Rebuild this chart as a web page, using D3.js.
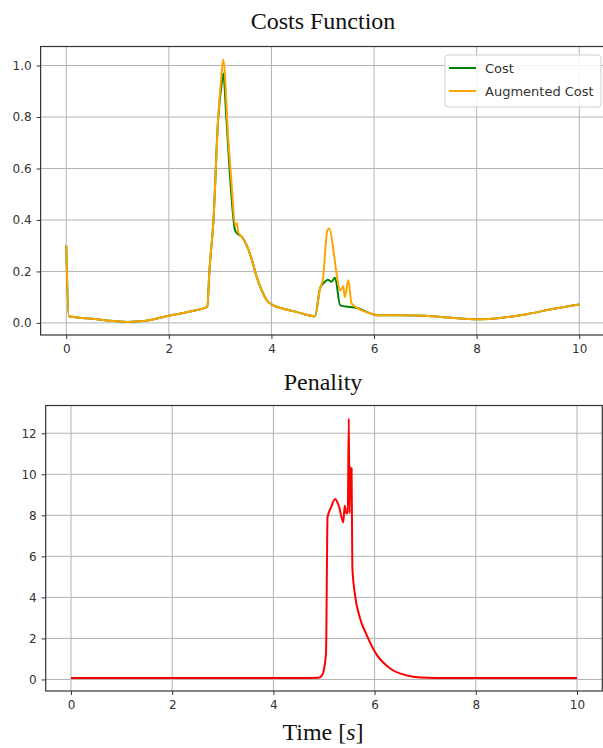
<!DOCTYPE html>
<html>
<head>
<meta charset="utf-8">
<script src="https://cdn.jsdelivr.net/npm/d3@7"></script>
<style>
  body { margin: 0; background: #fff; }
  .tick text { font-family: "DejaVu Sans", sans-serif; font-size: 12px; fill: #333; }
  .title { font-family: "Liberation Serif", serif; font-size: 24px; fill: #111; }
</style>
</head>
<body>
<div id="chart"></div>
<script>
// Costs function: green cost, orange augmented cost
var costTime  = [0, 0.05, 0.5, 1.0, 1.2, 1.5, 2.0, 2.5, 2.75, 2.79, 2.87, 2.96, 3.03, 3.06, 3.12, 3.2, 3.29, 3.33, 3.42, 3.52, 3.62, 3.71, 3.81, 3.91, 4.0, 4.2, 4.5, 4.85, 4.95, 5.04, 5.1, 5.17, 5.24, 5.34, 5.54, 5.63, 5.93, 6.06, 6.5, 7.0, 7.5, 8.0, 8.5, 9.0, 9.5, 10.0];
var costValue = [0.30, 0.026, 0.016, 0.006, 0.004, 0.007, 0.028, 0.048, 0.062, 0.2, 0.40, 0.79, 0.93, 0.97, 0.8, 0.55, 0.36, 0.348, 0.335, 0.30, 0.244, 0.18, 0.127, 0.088, 0.072, 0.057, 0.042, 0.026, 0.137, 0.159, 0.168, 0.16, 0.175, 0.068, 0.062, 0.06, 0.037, 0.03, 0.03, 0.028, 0.02, 0.014, 0.02, 0.035, 0.055, 0.072];

var augTime  = [0, 0.05, 0.5, 1.0, 1.2, 1.5, 2.0, 2.5, 2.75, 2.79, 2.87, 2.96, 3.03, 3.06, 3.16, 3.23, 3.29, 3.33, 3.35, 3.42, 3.52, 3.62, 3.71, 3.81, 3.91, 4.0, 4.2, 4.5, 4.85, 4.95, 5.0, 5.09, 5.13, 5.21, 5.27, 5.34, 5.4, 5.43, 5.5, 5.56, 5.63, 5.93, 6.06, 6.5, 7.0, 7.5, 8.0, 8.5, 9.0, 9.5, 10.0];
var augValue = [0.30, 0.026, 0.016, 0.006, 0.004, 0.007, 0.028, 0.048, 0.062, 0.2, 0.40, 0.79, 0.97, 1.023, 0.71, 0.52, 0.38, 0.387, 0.354, 0.335, 0.30, 0.244, 0.18, 0.127, 0.088, 0.072, 0.057, 0.042, 0.026, 0.137, 0.166, 0.36, 0.367, 0.28, 0.19, 0.126, 0.142, 0.10, 0.166, 0.076, 0.064, 0.037, 0.03, 0.03, 0.028, 0.02, 0.014, 0.02, 0.035, 0.055, 0.072];

// Penalty
var penTime  = [0, 4.5, 4.89, 4.96, 5.0, 5.04, 5.07, 5.14, 5.22, 5.3, 5.38, 5.41, 5.44, 5.47, 5.49, 5.505, 5.52, 5.535, 5.545, 5.56, 5.61, 5.71, 5.84, 6.04, 6.3, 6.63, 6.9, 7.5, 10.0];
var penValue = [0.07, 0.07, 0.08, 0.2, 0.5, 1.3, 7.9, 8.4, 8.8, 8.4, 7.65, 8.47, 8.1, 8.1, 12.72, 8.1, 10.35, 9.4, 10.3, 5.5, 4.17, 3.0, 2.19, 1.21, 0.55, 0.2, 0.1, 0.07, 0.07];

var xTicks = [0, 2, 4, 6, 8, 10];
var costTicks = [0.0, 0.2, 0.4, 0.6, 0.8, 1.0];
var penTicks = [0, 2, 4, 6, 8, 10, 12];

var width = 603, height = 748;

var svg = d3.select("#chart").append("svg")
  .attr("width", width)
  .attr("height", height);

// matplotlib-like 5% margins
function padded(ext) {
  var m = (ext[1] - ext[0]) * 0.05;
  return [ext[0] - m, ext[1] + m];
}

function drawPanel(opts) {
  var x = d3.scaleLinear().domain(padded([0, 10])).range([opts.left, opts.right]);
  var allY = [];
  opts.series.forEach(function (s) { allY = allY.concat(s.v); });
  var y = d3.scaleLinear().domain(padded(d3.extent(allY))).range([opts.bottom, opts.top]);

  var g = svg.append("g");

  // grid
  g.append("g").selectAll("line").data(opts.xTicks).enter().append("line")
    .attr("x1", function (d) { return x(d); }).attr("x2", function (d) { return x(d); })
    .attr("y1", opts.top).attr("y2", opts.bottom)
    .attr("stroke", "#b4b4b4").attr("stroke-width", 1);
  g.append("g").selectAll("line").data(opts.yTicks).enter().append("line")
    .attr("x1", opts.left).attr("x2", opts.right)
    .attr("y1", function (d) { return y(d); }).attr("y2", function (d) { return y(d); })
    .attr("stroke", "#b4b4b4").attr("stroke-width", 1);

  // lines
  var line = d3.line()
    .x(function (d) { return x(d[0]); })
    .y(function (d) { return y(d[1]); })
    .curve(d3.curveMonotoneX);
  opts.series.forEach(function (s) {
    g.append("path")
      .datum(d3.zip(s.t, s.v))
      .attr("d", line)
      .attr("fill", "none")
      .attr("stroke", s.color)
      .attr("stroke-width", 2)
      .attr("stroke-linejoin", "round");
  });

  // frame
  g.append("rect")
    .attr("x", opts.left).attr("y", opts.top)
    .attr("width", opts.right - opts.left).attr("height", opts.bottom - opts.top)
    .attr("fill", "none").attr("stroke", "#333").attr("stroke-width", 1.2);

  // axes
  var xAxis = g.append("g")
    .attr("transform", "translate(0," + opts.bottom + ")")
    .call(d3.axisBottom(x).tickValues(opts.xTicks).tickSize(4).tickPadding(5).tickFormat(d3.format("d")));
  var yAxis = g.append("g")
    .attr("transform", "translate(" + opts.left + ",0)")
    .call(d3.axisLeft(y).tickValues(opts.yTicks).tickSize(4).tickPadding(5).tickFormat(opts.yFormat));
  [xAxis, yAxis].forEach(function (a) {
    a.select(".domain").remove();
    a.selectAll(".tick line").attr("stroke", "#333");
  });

  return { x: x, y: y, g: g };
}

var top = drawPanel({
  left: 40.6, right: 604.9, top: 46.5, bottom: 335,
  xTicks: xTicks, yTicks: costTicks, yFormat: d3.format(".1f"),
  series: [
    { t: costTime, v: costValue, color: "green" },
    { t: augTime, v: augValue, color: "orange" }
  ]
});

var bottom = drawPanel({
  left: 45.7, right: 602.3, top: 405.5, bottom: 691,
  xTicks: xTicks, yTicks: penTicks, yFormat: d3.format("d"),
  series: [
    { t: penTime, v: penValue, color: "red" }
  ]
});

// legend
var legendItems = [
  { label: "Cost", color: "green" },
  { label: "Augmented Cost", color: "orange" }
];
var lg = svg.append("g").attr("transform", "translate(445,55)");
lg.append("rect")
  .attr("width", 156).attr("height", 52).attr("rx", 3)
  .attr("fill", "rgba(255,255,255,0.85)").attr("stroke", "#d0d0d0");
lg.selectAll("g.item").data(legendItems).enter().append("g")
  .attr("class", "item")
  .attr("transform", function (d, i) { return "translate(0," + (13 + i * 23) + ")"; })
  .each(function (d) {
    var it = d3.select(this);
    it.append("line").attr("x1", 4).attr("x2", 31)
      .attr("stroke", d.color).attr("stroke-width", 2);
    it.append("text").attr("x", 40).attr("y", 5)
      .attr("font-family", "DejaVu Sans, sans-serif").attr("font-size", 13).attr("fill", "#333")
      .text(d.label);
  });

// titles
svg.append("text").attr("class", "title")
  .attr("x", 323).attr("y", 29).attr("text-anchor", "middle").text("Costs Function");
svg.append("text").attr("class", "title")
  .attr("x", 323).attr("y", 390).attr("text-anchor", "middle").text("Penality");
var xl = svg.append("text").attr("class", "title")
  .attr("x", 323).attr("y", 740).attr("text-anchor", "middle");
xl.append("tspan").text("Time [");
xl.append("tspan").attr("font-style", "italic").text("s");
xl.append("tspan").text("]");
</script>
</body>
</html>
